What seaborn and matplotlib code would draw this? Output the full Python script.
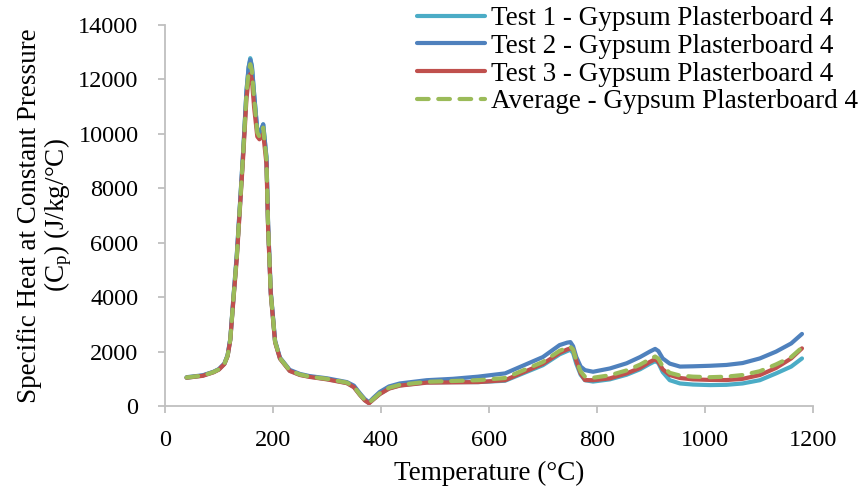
import numpy as np
import pandas as pd
import matplotlib
matplotlib.use("Agg")
import matplotlib.pyplot as plt
import seaborn as sns

# temperatures (°C) shared by all series
temp = [40, 70, 90, 100, 110, 116, 121, 127, 133, 139, 145, 151, 155, 158, 161, 165, 171, 175, 182, 188,
        191, 196, 204, 213, 231, 250, 268, 300, 337, 350, 361, 370, 378, 386, 398, 415, 435, 485, 533,
        580, 630, 700, 731, 745, 751, 756, 762, 770, 778, 793, 824, 855, 880, 898, 908, 914, 922, 935,
        954, 978, 1010, 1040, 1070, 1102, 1132, 1160, 1180]

# specific heat (J/kg/°C)
test1 = [1040, 1120, 1250, 1350, 1550, 1850, 2450, 4000, 5500, 7400, 9350, 11550, 12450, 12780, 12500, 11500, 10100, 9950, 10350, 9100,
         6650, 4150, 2360, 1750, 1300, 1150, 1080, 990, 850, 700, 420, 220, 110, 250, 450, 650, 760, 870, 880,
         880, 930, 1500, 1900, 2020, 2070, 1950, 1550, 1150, 950, 900, 980, 1150, 1350, 1550, 1650, 1580, 1250, 950,
         830, 790, 770, 780, 830, 950, 1200, 1450, 1750]
test2 = [1060, 1130, 1260, 1360, 1560, 1870, 2470, 4050, 5550, 7450, 9400, 11600, 12450, 12720, 12480, 11500, 10150, 10000, 10350, 9150,
         6700, 4200, 2400, 1780, 1330, 1180, 1100, 1020, 880, 750, 470, 260, 140, 300, 520, 720, 830, 950, 1000,
         1080, 1200, 1800, 2240, 2330, 2350, 2200, 1800, 1450, 1320, 1260, 1380, 1570, 1800, 2000, 2100, 2020, 1750, 1560,
         1450, 1460, 1480, 1510, 1580, 1750, 2000, 2300, 2650]
test3 = [1040, 1110, 1240, 1340, 1540, 1830, 2420, 3950, 5400, 7300, 9200, 11300, 12000, 12200, 12000, 11000, 9900, 9800, 10000, 8900,
         6550, 4100, 2340, 1740, 1290, 1140, 1070, 980, 840, 690, 410, 210, 100, 240, 440, 640, 750, 860, 870,
         880, 950, 1550, 1950, 2080, 2120, 2080, 1650, 1200, 955, 950, 1015, 1200, 1400, 1620, 1720, 1620, 1350, 1140,
         1030, 980, 960, 955, 1000, 1140, 1400, 1750, 2120]
average = [1050, 1120, 1250, 1350, 1550, 1850, 2450, 4000, 5480, 7380, 9320, 11480, 12300, 12560, 12330, 11330, 10050, 9900, 10230, 9050,
           6630, 4150, 2370, 1760, 1310, 1160, 1080, 1000, 860, 710, 430, 230, 120, 260, 470, 670, 780, 890, 920,
           950, 1030, 1620, 2030, 2140, 2180, 2080, 1670, 1270, 1080, 1040, 1130, 1310, 1520, 1720, 1820, 1740, 1450, 1220,
           1120, 1080, 1060, 1080, 1140, 1280, 1530, 1800, 2150]

labels = ["Test 1 - Gypsum Plasterboard 4", "Test 2 - Gypsum Plasterboard 4",
          "Test 3 - Gypsum Plasterboard 4", "Average - Gypsum Plasterboard 4"]
colors = ["#4BACC6", "#4F81BD", "#C0504D", "#9BBB59"]

sns.set_theme(style="white")
plt.rcParams["font.family"] = ["Liberation Serif", "DejaVu Serif"]
plt.rcParams["mathtext.fontset"] = "custom"
plt.rcParams["mathtext.rm"] = "Liberation Serif"
plt.rcParams["mathtext.it"] = "Liberation Serif:italic"

fig = plt.figure(figsize=(8.61, 4.97), dpi=100)
ax = fig.add_axes([0.1916, 0.183, 0.7524, 0.7667])

fs_tick = 17.5
fs_lab = 19.5
for vals, lab, col in zip([test1, test2, test3, average], labels, colors):
    df = pd.DataFrame({"T": temp, "Cp": vals})
    sns.lineplot(data=df, x="T", y="Cp", ax=ax, color=col, lw=3.0, label=lab,
                 solid_capstyle="round", dash_capstyle="round", sort=False)

ax.lines[-1].set_dashes((2.8, 2.3))

ax.set_xlim(0, 1200)
ax.set_ylim(0, 14000)
ax.set_xticks(np.arange(0, 1201, 200))
ax.set_yticks(np.arange(0, 14001, 2000))
ax.set_xlabel("Temperature (°C)", fontsize=fs_lab, color="black", labelpad=7)
ax.set_ylabel("Specific Heat at Constant Pressure\n(C$_\\mathregular{p}$) (J/kg/°C)",
              fontsize=fs_lab, color="black", linespacing=1.0, labelpad=3)

for s in ["top", "right"]:
    ax.spines[s].set_visible(False)
for s in ["left", "bottom"]:
    ax.spines[s].set_color("#BFBFBF")
    ax.spines[s].set_linewidth(1.3)
ax.tick_params(axis="both", direction="out", length=5, width=1.3, color="#BFBFBF",
               labelsize=fs_tick, labelcolor="black")
ax.tick_params(axis="x", pad=12)
ax.tick_params(axis="y", pad=14)
ax.tick_params(left=True, bottom=True)

leg = ax.legend(loc="upper right", bbox_to_anchor=(1.0, 0.993), bbox_transform=fig.transFigure,
                frameon=False, fontsize=fs_lab, handlelength=2.5, handletextpad=0.25,
                labelspacing=0.1, borderaxespad=0.0, borderpad=0.1)
for t in leg.get_texts():
    t.set_color("black")

fig.savefig("out.png", dpi=100)
